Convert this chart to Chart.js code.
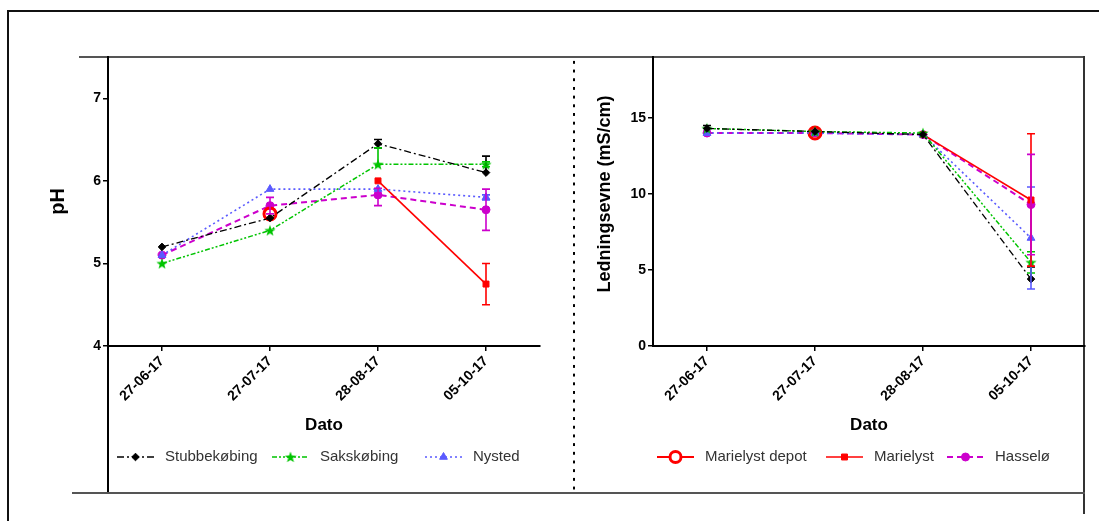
<!DOCTYPE html>
<html><head><meta charset="utf-8">
<script src="https://cdn.jsdelivr.net/npm/chart.js@4.4.1/dist/chart.umd.min.js"></script>
<style>
html,body{margin:0;padding:0;background:#fff;}
body{width:1099px;height:521px;position:relative;overflow:hidden;font-family:'Liberation Sans',Arial,sans-serif;}
.ln{position:absolute;background:#000;}
canvas{position:absolute;left:0;top:0;}
</style></head><body>
<div class="ln" style="left:7px;top:10px;width:1092px;height:2px;background:#111"></div>
<div class="ln" style="left:7px;top:10px;width:2px;height:511px;background:#111"></div>
<div class="ln" style="left:79px;top:56px;width:1006px;height:2px;background:#555"></div>
<div class="ln" style="left:107px;top:56px;width:2px;height:437px"></div>
<div class="ln" style="left:1083px;top:56px;width:2px;height:458px;background:#333"></div>
<div class="ln" style="left:72px;top:492px;width:1013px;height:2px;background:#555"></div>
<div style="position:absolute;left:572px;top:58px;width:4px;height:432px;background-image:radial-gradient(circle, #000 1.1px, transparent 1.5px);background-size:4px 8.7px;"></div>
<canvas id="c1" width="1099" height="521"></canvas>
<canvas id="c2" width="1099" height="521"></canvas>
<script>
// ---------- data ----------
const categories = ['27-06-17','27-07-17','28-08-17','05-10-17'];
const seriesNames = ['Stubbekøbing','Sakskøbing','Nysted','Marielyst depot','Marielyst','Hasselø'];

const phStubbekobing = [5.2, 5.55, 6.45, 6.1];
const phSakskobing   = [5.0, 5.4, 6.2, 6.2];
const phNysted       = [5.1, 5.9, 5.9, 5.8];
const phDepot        = [null, 5.6, null, null];
const phMarielyst    = [null, null, 6.0, 4.75];
const phHasselo      = [5.1, 5.7, 5.83, 5.65];
// [minus, plus]
const phErrStubbekobing = [[0,0],[0,0],[0.05,0.05],[0,0.2]];
const phErrSakskobing   = [[0,0],[0,0],[0,0.2],[0.03,0.03]];
const phErrNysted       = [[0,0],[0,0],[0,0],[0.03,0.03]];
const phErrDepot        = [[0,0],[0,0],[0,0],[0,0]];
const phErrMarielyst    = [[0,0],[0,0],[0,0],[0.25,0.25]];
const phErrHasselo      = [[0,0],[0.1,0.1],[0.13,0.08],[0.25,0.25]];

const ecStubbekobing = [14.3, 14.1, 13.9, 4.4];
const ecSakskobing   = [14.3, 14.1, 14.0, 5.5];
const ecNysted       = [14.0, 14.0, 13.9, 7.1];
const ecDepot        = [null, 14.0, null, null];
const ecMarielyst    = [null, null, 13.9, 9.6];
const ecHasselo      = [14.0, 14.0, 13.9, 9.3];
const ecErrStubbekobing = [[0,0.2],[0,0],[0,0],[0,0.8]];
const ecErrSakskobing   = [[0,0],[0,0],[0,0],[0.7,0.7]];
const ecErrNysted       = [[0,0],[0,0],[0,0],[3.35,3.35]];
const ecErrDepot        = [[0,0],[0,0],[0,0],[0,0]];
const ecErrMarielyst    = [[0,0],[0,0],[0,0],[4.35,4.35]];
const ecErrHasselo      = [[0,0],[0,0],[0,0],[3.3,3.3]];

const phTicks = [4,5,6,7];
const ecTicks = [0,5,10,15];

// ---------- styles ----------
const FONT = "'Liberation Sans', Arial, sans-serif";
function makeStar(color){
  const c=document.createElement('canvas'); c.width=12; c.height=12;
  const g=c.getContext('2d'); g.fillStyle=color; g.beginPath();
  for(let k=0;k<10;k++){const r=k%2?2.4:6; const a=-Math.PI/2+k*Math.PI/5; g.lineTo(6+r*Math.cos(a),6.5+r*Math.sin(a));}
  g.closePath(); g.fill(); return c;
}
const styles = [
  {color:'#000000', dash:[7,3,2,3], width:1.3, point:'rectRot', radius:3.8, bw:1},
  {color:'#00c400', dash:[5,2,2,2,2,2], width:1.5, point:makeStar('#00c400'), radius:6, bw:0},
  {color:'#5a5aff', dash:[2,3], width:1.6, point:'triangle', radius:4.5, bw:1},
  {color:'#ff0000', dash:[], width:2, point:'circle', radius:6, bw:3, hollow:true},
  {color:'#ff0000', dash:[], width:1.6, point:'rect', radius:4.2, bw:1},
  {color:'#cc00cc', dash:[6,4], width:2, point:'circle', radius:4, bw:1},
];

const errorBars = {
  id:'errorBars',
  afterDatasetsDraw(chart){
    const ctx=chart.ctx, ys=chart.scales.y;
    chart.data.datasets.forEach((ds,i)=>{
      const meta=chart.getDatasetMeta(i);
      ds.errors.forEach((e,j)=>{
        const v=ds.data[j]; if(v==null) return;
        const lo=e[0], hi=e[1]; if(!lo && !hi) return;
        const x=meta.data[j].x;
        const y1=ys.getPixelForValue(v+hi), y2=ys.getPixelForValue(v-lo);
        ctx.save(); ctx.strokeStyle=ds.borderColor; ctx.lineWidth=1.6; ctx.setLineDash([]);
        ctx.beginPath(); ctx.moveTo(x,y1); ctx.lineTo(x,y2);
        if(hi){ctx.moveTo(x-4,y1); ctx.lineTo(x+4,y1);}
        if(lo){ctx.moveTo(x-4,y2); ctx.lineTo(x+4,y2);}
        ctx.stroke(); ctx.restore();
      });
    });
  }
};

const lineLegend = {
  id:'lineLegend',
  afterDraw(chart, args, opts){
    const ctx=chart.ctx;
    opts.items.forEach((idx,k)=>{
      const s=styles[idx], x0=opts.xs[k], y=opts.y, w=37;
      ctx.save();
      ctx.strokeStyle=s.color; ctx.lineWidth=s.width; ctx.setLineDash(s.dash);
      ctx.beginPath(); ctx.moveTo(x0,y); ctx.lineTo(x0+w,y); ctx.stroke();
      ctx.setLineDash([]);
      ctx.fillStyle=s.hollow?'#fff':s.color; ctx.strokeStyle=s.color; ctx.lineWidth=s.bw;
      Chart.helpers.drawPoint(ctx,{pointStyle:s.point,radius:s.hollow?5.5:s.radius,rotation:0,borderWidth:s.bw},x0+w/2,y);
      ctx.fillStyle='#333'; ctx.font='15px '+FONT; ctx.textBaseline='middle'; ctx.textAlign='left';
      ctx.fillText(seriesNames[idx], x0+w+11, y);
      ctx.restore();
    });
  }
};

function makeChart(id, series, errs, ticks, yMin, yMax, yTitle, yTitleSize, yWidth, padding, legendItems, legendXs){
  const datasets = series.map((d,i)=>{
    const s=styles[i];
    return {
      label: seriesNames[i], data: d, errors: errs[i],
      borderColor: s.color, borderWidth: s.width, borderDash: s.dash,
      backgroundColor: s.hollow?'rgba(0,0,0,0)':s.color,
      pointStyle: s.point, pointRadius: s.radius, pointBorderWidth: s.bw,
      pointBorderColor: s.color, pointBackgroundColor: s.hollow?'rgba(0,0,0,0)':s.color,
      fill:false, tension:0, spanGaps:false
    };
  });
  return new Chart(document.getElementById(id), {
    type:'line',
    data:{labels:categories, datasets},
    plugins:[errorBars, lineLegend],
    options:{
      responsive:false, animation:false, devicePixelRatio:1,
      layout:{padding},
      plugins:{legend:{display:false}, tooltip:{enabled:false},
        lineLegend:{items:legendItems, xs:legendXs, y:457}},
      scales:{
        x:{type:'category', offset:true,
          ticks:{font:{family:FONT,size:14,weight:'bold'}, color:'#000', maxRotation:45, minRotation:45, autoSkip:false, padding:2},
          grid:{drawOnChartArea:false, drawTicks:true, tickLength:5, color:'#000', lineWidth:1.5},
          border:{display:true, color:'#000', width:2},
          title:{display:true, text:'Dato', font:{family:FONT,size:17,weight:'bold'}, color:'#000', padding:0},
          afterFit:s=>{s.height=90;}
        },
        y:{min:yMin, max:yMax,
          afterBuildTicks:s=>{s.ticks=ticks.map(v=>({value:v}));},
          ticks:{font:{family:FONT,size:14,weight:'bold'}, color:'#000', padding:2},
          grid:{drawOnChartArea:false, drawTicks:true, tickLength:5, color:'#000', lineWidth:1.5},
          border:{display:true, color:'#000', width:2},
          title:{display:true, text:yTitle, font:{family:FONT,size:yTitleSize,weight:'bold'}, color:'#000', padding:0},
          afterFit:s=>{s.width=yWidth;}
        }
      }
    }
  });
}

makeChart('c1',
  [phStubbekobing, phSakskobing, phNysted, phDepot, phMarielyst, phHasselo],
  [phErrStubbekobing, phErrSakskobing, phErrNysted, phErrDepot, phErrMarielyst, phErrHasselo],
  phTicks, 4, 7.5, 'pH', 20, 62, {left:46, top:57, right:559, bottom:85}, [0,1,2], [117,272,425]);

makeChart('c2',
  [ecStubbekobing, ecSakskobing, ecNysted, ecDepot, ecMarielyst, ecHasselo],
  [ecErrStubbekobing, ecErrSakskobing, ecErrNysted, ecErrDepot, ecErrMarielyst, ecErrHasselo],
  ecTicks, 0, 19, '   Ledningsevne (mS/cm)', 18, 59, {left:594, top:57, right:14, bottom:85}, [3,4,5], [657,826,947]);
</script>
</body></html>
